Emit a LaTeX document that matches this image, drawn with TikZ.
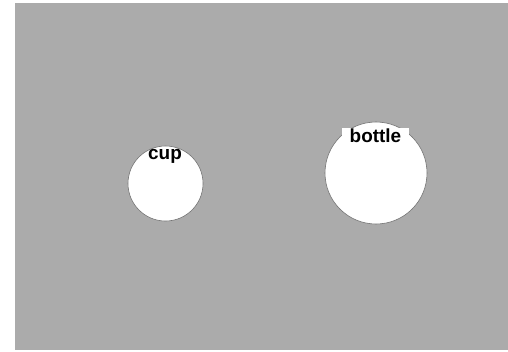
\documentclass[tikz,border=0pt]{standalone}
\usepackage{fontspec}
\setmainfont{Liberation Sans}
\begin{document}
\begin{tikzpicture}[x=1bp,y=-1bp,line cap=round,line join=round,font=\fontsize{19}{21}\selectfont\bfseries]
			\useasboundingbox (0,0) rectangle (508,351);
			\fill[white] (0,0) rectangle (508,351);
			\fill[black!33] (15,3) rectangle (508,350);
			\tikzset{thing/.style={circle,fill=white,draw=black!55,line width=0.6bp,inner sep=0pt},
				tag/.style={fill=white,inner sep=0pt,text=black}}
			\node[thing,minimum size=75bp] (cup) at (165.5,183.5) {};
			\node[thing,minimum size=102bp] (bottle) at (376,173) {};
			\node[text=black,inner sep=0pt] (cuplabel) at (165,156) {cup};
			\node[tag,minimum width=67bp,minimum height=15bp] (bottlelabel) at (375.5,135.5) {bottle};
		\end{tikzpicture}
\end{document}
